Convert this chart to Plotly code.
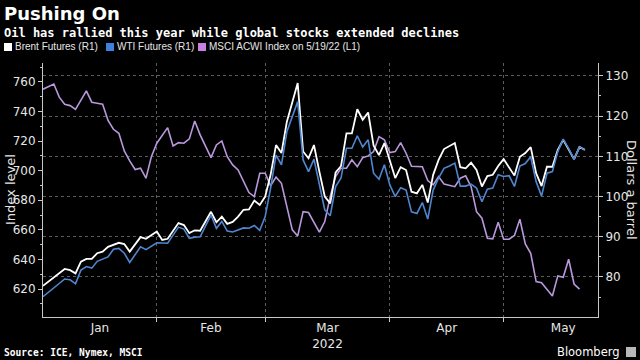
import pandas as pd
import plotly.graph_objects as go

# Weekday dates shown on the chart (Bloomberg skips weekends)
dates = pd.bdate_range("2021-12-31", "2022-05-20").strftime("%Y-%m-%d").tolist()

N = None
# Brent futures, $/bbl (right axis)
brent = [77.8, N, 80.0, N, 82.0, 81.7, 80.9, 83.8, 84.5, 84.5,
         85.9, 86.3, 87.5, N, 88.5, 88.2, 86.3, 88.0, 89.9, 89.5,
         N, 91.3, 89.2, 89.5, N, 93.4, 92.9, 90.9, 91.6, 91.5,
         N, 96.2, 93.6, 95.0, 93.2, 93.7, 95.0, 96.7, 96.8, 99.0,
         97.9, 100.0, 105.4, 112.8, 110.8, 118.6, N, 128.2, 111.2, 109.5,
         112.8, 106.2, 100.0, 98.3, 106.0, 107.6, 115.7, 115.7, 121.7, 119.1,
         120.9, 112.7, 110.3, 113.3, 109.1, 104.6, 107.3, 106.6, 101.2, 100.8,
         102.9, 98.5, 105.4, 109.1, 111.8, 112.5, 113.3, 107.3, 107.0, 108.4,
         106.6, 102.5, 105.1, 105.4, 107.6, 109.3, 107.2, 105.2, 109.9, 110.8,
         112.3, 105.8, 102.6, 107.4, 107.4, 111.6, 114.1, 111.7, 109.3, 112.3,
         111.6]

# WTI futures, $/bbl (right axis)
wti = [75.1, N, 77.2, N, 79.5, 79.3, 78.3, 81.7, 82.6, 82.2,
       83.9, N, 85.0, 86.9, 87.1, 85.9, 83.6, N, 87.5, 86.8,
       N, 88.5, N, 88.4, N, 92.4, 91.9, 89.6, 89.9, 90.0,
       N, 95.4, 92.1, 93.8, 91.4, 91.2, N, 92.2, 92.1, 92.8,
       91.6, 95.0, 102.1, 110.3, 107.9, 116.1, N, 123.6, 109.1, 106.2,
       109.3, 103.0, 96.7, 95.2, 102.5, 104.6, 112.0, 112.0, 115.1, 112.3,
       114.1, 105.8, 104.3, 107.9, 102.9, 100.0, 102.2, 101.6, 96.2, 95.8,
       98.5, 94.4, 101.6, 104.6, 107.0, 107.6, 108.3, 102.6, 102.6, 103.1,
       102.1, 98.7, 101.8, 102.1, 105.4, 105.0, 105.2, 102.5, 107.6, 108.2,
       109.9, 103.7, 100.1, 105.8, 106.2, 111.2, 114.3, 111.9, 109.3, 112.3,
       111.6]

# MSCI ACWI index level (left axis)
msci = [755.1, N, 758.6, 749.7, 744.9, 744.0, 741.5, N, 753.9, 746.3,
        745.6, 744.9, 734.0, 728.0, 725.3, 713.4, 706.6, 700.8, 701.7, 694.9,
        709.5, 718.6, N, 729.1, 716.7, 719.0, 718.6, 721.5, 733.6, 724.2,
        N, 708.8, 717.4, 720.1, 709.5, 703.9, 700.5, 692.6, 685.2, 682.5,
        698.3, 698.3, 689.7, 695.6, 691.5, 675.7, 660.0, 655.9, 672.3, 671.7,
        N, 658.4, 665.6, 682.5, 696.0, 701.7, 701.7, 707.3, 702.7, 708.8,
        710.0, 712.9, 723.0, 720.8, 712.2, 712.9, 719.0, 711.8, 703.0, N,
        702.7, 693.3, 690.4, 696.0, 691.0, N, 689.2, 694.9, 696.5, 689.2,
        672.3, 667.9, 654.3, 653.9, 665.2, 653.7, 653.7, 656.2, 667.2, 650.5,
        644.2, 625.0, 624.3, N, 615.3, 628.9, 628.0, 640.2, 623.4, 619.9,
        N]

month_ticks = ["2022-01-14 12:00", "2022-02-14", "2022-03-15 12:00", "2022-04-14 12:00", "2022-05-16"]
month_labels = ["Jan", "Feb", "Mar<br>2022", "Apr", "May"]
month_bounds = ["2022-01-31", "2022-02-28", "2022-03-31", "2022-04-29"]

C_BRENT = "#ffffff"
C_WTI = "#4f86cf"
C_MSCI = "#b998dc"
AX = "#c8c8c8"
GRID = "#5c5c5c"

L, R, T, B = 43, 42, 63, 43
W, H = 640, 360
PW, PH = W - L - R, H - T - B


def px(x):
    return (x - L) / PW


def py(y):
    return (H - B - y) / PH


fig = go.Figure()
fig.add_trace(go.Scatter(x=dates, y=msci, name="MSCI ACWI Index on 5/19/22 (L1)",
                         mode="lines", line=dict(color=C_MSCI, width=1.6),
                         connectgaps=True, yaxis="y"))
fig.add_trace(go.Scatter(x=dates, y=brent, name="Brent Futures (R1)",
                         mode="lines", line=dict(color=C_BRENT, width=1.8),
                         connectgaps=True, yaxis="y2"))
fig.add_trace(go.Scatter(x=dates, y=wti, name="WTI Futures (R1)",
                         mode="lines", line=dict(color=C_WTI, width=1.6),
                         connectgaps=True, yaxis="y2"))

fig.update_layout(
    width=W, height=H,
    paper_bgcolor="black", plot_bgcolor="black",
    margin=dict(l=L, r=R, t=T, b=B, pad=0, autoexpand=False),
    showlegend=False,
    font=dict(family="DejaVu Sans", color="#e6e6e6", size=12),
    xaxis=dict(
        type="date", range=["2021-12-31", "2022-05-24 10:00"],
        rangebreaks=[dict(bounds=["sat", "mon"])],
        tickmode="array", tickvals=month_ticks, ticktext=month_labels,
        ticks="", showgrid=False, zeroline=False, automargin=False,
        showline=True, linecolor=AX, linewidth=1,
        tickfont=dict(size=12, color="#e6e6e6"),
        minor=dict(tickmode="array", tickvals=month_bounds, ticks="outside",
                   ticklen=4, tickcolor=AX, showgrid=True, gridcolor=GRID,
                   griddash="dot", gridwidth=1),
    ),
    yaxis=dict(
        range=[601.1, 772.8], tickmode="linear", tick0=620, dtick=20,
        ticks="outside", ticklen=4, tickcolor=AX, showline=True, linecolor=AX,
        showgrid=False, zeroline=False, automargin=False,
        tickfont=dict(size=12, color="#e6e6e6"),
        minor=dict(tick0=600, dtick=10, ticks="outside", ticklen=2, tickcolor=AX, showgrid=False),
    ),
    yaxis2=dict(
        overlaying="y", side="right", range=[70.05, 133.2],
        tickmode="linear", tick0=80, dtick=10, automargin=False,
        ticks="outside", ticklen=4, tickcolor=AX, showline=True, linecolor=AX,
        showgrid=True, gridcolor=GRID, griddash="dot", gridwidth=1, zeroline=False,
        tickfont=dict(size=12, color="#e6e6e6"),
        minor=dict(tick0=70, dtick=5, ticks="outside", ticklen=2, tickcolor=AX, showgrid=False),
    ),
)

ann = []
ann.append(dict(text="<b>Pushing On</b>", x=px(2), y=py(14), xanchor="left", yanchor="middle",
                font=dict(family="DejaVu Sans", size=18, color="#ffffff")))
ann.append(dict(text="<b>Oil has rallied this year while global stocks extended declines</b>",
                x=px(2), y=py(33), xanchor="left", yanchor="middle",
                font=dict(family="DejaVu Sans Mono", size=12, color="#ffffff")))
legend_items = [("Brent Futures (R1)", C_BRENT, 4), ("WTI Futures (R1)", "#3f80de", 106),
                ("MSCI ACWI Index on 5/19/22 (L1)", "#c682e0", 198)]
shapes = []
for label, col, x0 in legend_items:
    shapes.append(dict(type="rect", xref="paper", yref="paper", x0=px(x0), x1=px(x0 + 8),
                       y0=py(51), y1=py(43), fillcolor=col, line=dict(width=0)))
    ann.append(dict(text=label, x=px(x0 + 9), y=py(47), xanchor="left", yanchor="middle",
                    font=dict(family="Liberation Sans", size=10, color="#e6e6e6")))
ann.append(dict(text="Index level", x=px(10), y=py(190), xanchor="center", yanchor="middle",
                textangle=-90, font=dict(size=13, color="#e6e6e6")))
ann.append(dict(text="Dollars a barrel", x=px(632), y=py(190), xanchor="center", yanchor="middle",
                textangle=90, font=dict(size=13, color="#e6e6e6")))
ann.append(dict(text="<b>Source: ICE, Nymex, MSCI</b>", x=px(2), y=py(352), xanchor="left",
                yanchor="middle", font=dict(family="DejaVu Sans Mono", size=9.6, color="#ffffff")))
ann.append(dict(text="Bloomberg", x=px(622), y=py(352), xanchor="right", yanchor="middle",
                font=dict(family="DejaVu Sans", size=11.5, color="#ffffff")))
shapes.append(dict(type="rect", xref="paper", yref="paper", x0=px(626), x1=px(636),
                   y0=py(357), y1=py(347), fillcolor="#b8b8b8", line=dict(width=0)))
for a in ann:
    a.update(xref="paper", yref="paper", showarrow=False)
fig.update_layout(annotations=ann, shapes=shapes)

fig.write_html("out.html", config={"displayModeBar": False},
               post_script="document.body.style.margin='0';document.body.style.padding='0';")
